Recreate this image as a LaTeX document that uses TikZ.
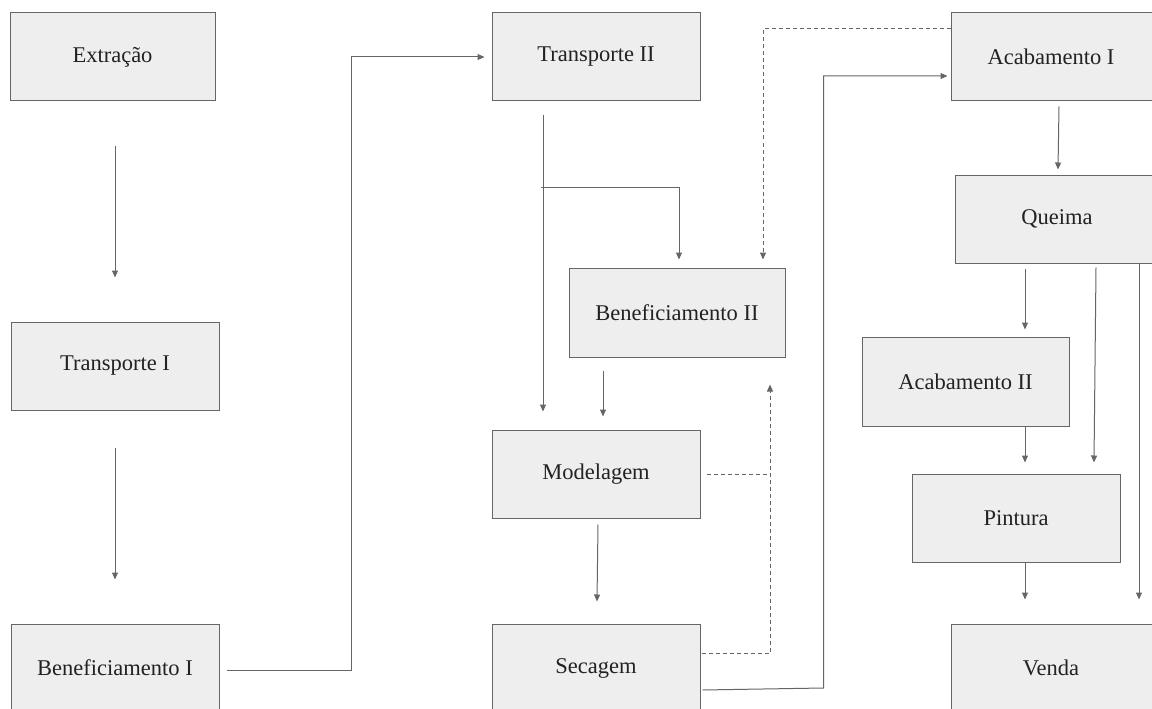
\documentclass[tikz,border=0pt]{standalone}
\usepackage{fontspec}
\setmainfont{Liberation Serif}
\usetikzlibrary{arrows.meta,calc}
\definecolor{boxfill}{HTML}{EEEEEE}
\definecolor{boxline}{HTML}{666666}
\definecolor{conn}{HTML}{666666}
\definecolor{txt}{HTML}{222222}
\begin{document}
\begin{tikzpicture}[x=1pt,y=-1pt,
  box/.style={draw=boxline,fill=boxfill,line width=1pt,minimum width=208pt,minimum height=88pt,
    inner sep=0pt,text=txt,font=\fontsize{22.5}{27}\selectfont},
  arr/.style={draw=conn,line width=1pt,-{Triangle[length=7pt,width=6pt]}},
  plain/.style={draw=conn,line width=1pt},
  dasharr/.style={draw=conn,line width=1pt,dash pattern=on 4pt off 3pt,-{Triangle[length=7pt,width=6pt]}},
  dashln/.style={draw=conn,line width=1pt,dash pattern=on 4pt off 3pt}]
\useasboundingbox[fill=white] (0,0) rectangle (1152,709);
% nodes
\node[box,minimum width=205pt] (ext) at (112.5,57) {Extração};
\node[box] (tr1) at (115,366) {Transporte I};
\node[box] (ben1) at (115,668) {Beneficiamento I};
\node[box] (tr2) at (596,57) {Transporte II};
\node[box,minimum width=216pt,minimum height=89pt] (ben2) at (677,312.5) {Beneficiamento II};
\node[box] (mod) at (596,474) {Modelagem};
\node[box] (sec) at (596,668) {Secagem};
\node[box] (ac1) at (1055,57) {\hspace*{-8pt}Acabamento I};
\node[box] (que) at (1059,219) {\hspace*{-4pt}Queima};
\node[box,minimum width=207pt,minimum height=89pt] (ac2) at (965.5,381.5) {Acabamento II};
\node[box] (pin) at (1016,518) {Pintura};
\node[box] (ven) at (1055,668) {\hspace*{-8pt}Venda};
% connectors
\draw[arr] ($(ext.south)+(2.5,44)$) -- ($(tr1.north)+(0,-44)$);
\draw[arr] ($(tr1.south)+(0,37)$) -- ($(ben1.north)+(0,-44)$);
\draw[arr] ($(ben1.east)+(7,2)$) -| ($(tr2.west)+(-140,0)$) -- ($(tr2.west)+(-7,0)$);
\draw[arr] ($(tr2.south)+(-53,13)$) -- ($(mod.north)+(-53,-18)$);
\draw[arr] ($(tr2.south)+(-55,86)$) -| ($(ben2.north)+(2,-8)$);
\draw[arr] ($(ben2.south)+(-74,13)$) -- ($(mod.north)+(7,-13)$);
\draw[arr] ($(mod.south)+(2,6)$) -- ($(sec.north)+(1,-22)$);
\draw[dashln] ($(mod.east)+(6,0)$) -- ($(mod.east)+(70,0)$);
\draw[dasharr] ($(sec.east)+(1,-15)$) -| ($(ben2.south)+(93,27)$);
\draw[dasharr] ($(ac1.west)+(0,-28)$) -| ($(ben2.north)+(86,-8)$);
\draw[arr] ($(sec.east)+(2,22)$) -- ($(sec.east)+(123,20)$) |- ($(ac1.west)+(-3,19)$);
\draw[arr] ($(ac1.south)+(4,5)$) -- ($(que.north)+(-1,-5)$);
\draw[arr] ($(que.south)+(-34,5)$) -- ($(ac2.north)+(59.5,-7)$);
\draw[arr] ($(que.south)+(37,4)$) -- ($(pin.north)+(78,-11)$);
\draw[arr] ($(que.south)+(80,0)$) -- ($(ven.north)+(84,-24)$);
\draw[arr] ($(ac2.south)+(59.5,0)$) -- ($(pin.north)+(9,-11)$);
\draw[arr] ($(pin.south)+(9,0)$) -- ($(ven.north)+(-30,-24)$);
\end{tikzpicture}
\end{document}
